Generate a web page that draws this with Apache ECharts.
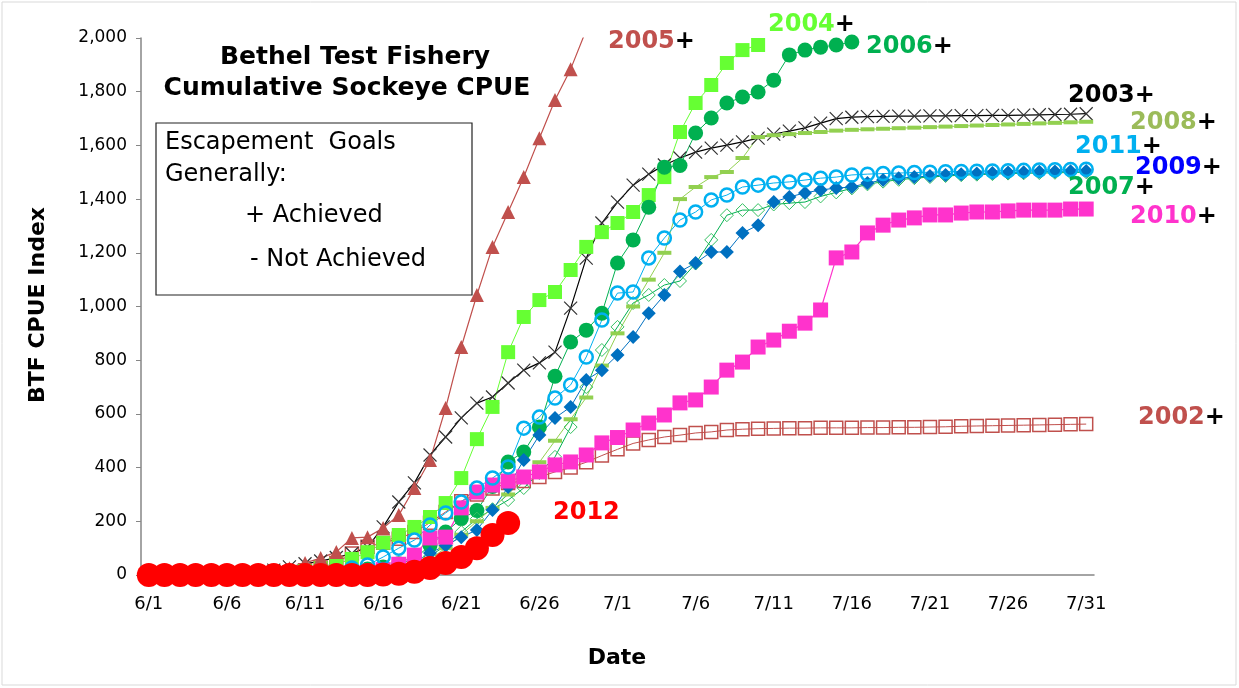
<!DOCTYPE html>
<html>
<head>
<meta charset="utf-8">
<script src="https://cdn.jsdelivr.net/npm/echarts@6/dist/echarts.min.js"></script>
<style>
  html, body { margin: 0; padding: 0; background: #fff; }
  #chart { width: 1239px; height: 688px; }
</style>
</head>
<body>
<div id="chart"></div>
<script>
// dates 6/1 .. 7/31
const dates = []
for (let d = 1; d <= 30; d++) dates.push('6/' + d)
for (let d = 1; d <= 31; d++) dates.push('7/' + d)

const y2002 = [0, 0, 0, 0, 0, 0, 0, 2, 5, 10, 18, 28, 45, 80, 105, 120, 135, 160, 195, 235,
  275, 300, 322, 343, 350, 365, 384, 400, 420, 445, 468, 490, 503, 514, 521, 529, 533, 540, 543, 545,
  546, 547, 547, 548, 548, 548, 549, 549, 550, 550, 551, 552, 554, 555, 556, 557, 558, 559, 560, 561, 562]
const y2003 = [0, 0, 0, 0, 0, 2, 5, 10, 18, 30, 42, 52, 65, 80, 104, 179, 272, 343, 447, 514,
  585, 640, 663, 715, 763, 790, 830, 994, 1180, 1311, 1389, 1452, 1493, 1527, 1553, 1575, 1590, 1601, 1613, 1627,
  1642, 1653, 1665, 1683, 1700, 1705, 1707, 1708, 1709, 1709, 1710, 1710, 1711, 1711, 1712, 1712, 1713, 1714, 1715, 1716, 1718]
const y2004 = [0, 0, 0, 0, 0, 0, 0, 2, 4, 8, 15, 25, 40, 60, 85, 120, 149, 179, 216, 268,
  361, 506, 626, 830, 961, 1024, 1054, 1136, 1222, 1277, 1311, 1352, 1415, 1482, 1650, 1758, 1825, 1907, 1955, 1974]
const y2005 = [0, 0, 0, 0, 0, 2, 4, 8, 14, 25, 45, 63, 86, 138, 141, 175, 223, 324, 428, 622,
  849, 1043, 1222, 1352, 1482, 1627, 1769, 1884, 2030]
const y2006 = [0, 0, 0, 0, 0, 0, 0, 0, 0, 2, 4, 6, 10, 15, 22, 30, 42, 60, 110, 160,
  210, 240, 330, 421, 458, 551, 740, 868, 912, 975, 1162, 1248, 1370, 1519, 1525, 1646, 1702, 1758, 1780, 1799,
  1843, 1937, 1955, 1966, 1974, 1985]
const y2007 = [0, 0, 0, 0, 0, 0, 0, 0, 0, 0, 2, 4, 6, 8, 12, 16, 20, 40, 70, 110,
  160, 210, 245, 279, 324, 380, 440, 551, 700, 838, 924, 1013, 1043, 1080, 1095, 1160, 1248, 1340, 1359, 1359,
  1380, 1385, 1389, 1410, 1425, 1440, 1455, 1465, 1472, 1478, 1482, 1486, 1489, 1491, 1493, 1495, 1496, 1497, 1498, 1499, 1500]
const y2008 = [0, 0, 0, 0, 0, 0, 0, 0, 0, 0, 2, 4, 6, 8, 12, 16, 20, 30, 60, 100,
  150, 200, 250, 300, 360, 420, 500, 580, 661, 780, 900, 1000, 1100, 1200, 1400, 1445, 1482, 1501, 1553, 1631,
  1638, 1642, 1646, 1650, 1655, 1658, 1660, 1662, 1664, 1666, 1668, 1670, 1672, 1674, 1676, 1678, 1680, 1682, 1684, 1686, 1688]
const y2009 = [0, 0, 0, 0, 0, 0, 0, 0, 0, 0, 2, 4, 6, 9, 14, 20, 30, 45, 82, 110,
  141, 168, 242, 328, 428, 521, 585, 626, 726, 763, 819, 886, 975, 1043, 1130, 1162, 1203, 1203, 1274, 1303,
  1389, 1408, 1423, 1434, 1441, 1445, 1460, 1471, 1478, 1482, 1486, 1490, 1493, 1495, 1497, 1499, 1500, 1502, 1503, 1504, 1505]
const y2010 = [0, 0, 0, 0, 0, 0, 0, 0, 0, 0, 2, 4, 6, 9, 14, 20, 40, 74, 138, 141,
  250, 309, 335, 350, 365, 384, 410, 421, 447, 492, 512, 540, 566, 596, 641, 652, 700, 763, 793, 849,
  875, 908, 938, 987, 1181, 1203, 1274, 1303, 1322, 1330, 1341, 1341, 1348, 1352, 1352, 1356, 1359, 1359, 1359, 1363, 1363]
const y2011 = [0, 0, 0, 0, 0, 0, 0, 0, 0, 2, 5, 10, 15, 26, 37, 67, 100, 130, 186, 231,
  272, 324, 361, 402, 547, 588, 659, 708, 812, 950, 1050, 1054, 1181, 1255, 1322, 1352, 1397, 1415, 1445, 1452,
  1460, 1464, 1471, 1478, 1482, 1490, 1493, 1495, 1497, 1499, 1500, 1502, 1503, 1504, 1505, 1506, 1507, 1508, 1509, 1510, 1511]
const y2012 = [0, 0, 0, 0, 0, 0, 0, 0, 0, 0, 0, 0, 0, 0, 0, 2, 5, 12, 26, 45,
  67, 100, 149, 194]

const yTicks = [0, 200, 400, 600, 800, 1000, 1200, 1400, 1600, 1800, 2000]

const chart = echarts.init(document.getElementById('chart'))

const FONT = 'DejaVu Sans'
const xMark = 'path://M0,0L10,10M10,0L0,10'

function line(name, data, color, symbol, size, item, lw) {
  return {
    name: name,
    type: 'line',
    data: data,
    symbol: symbol,
    symbolSize: size,
    showAllSymbol: true,
    lineStyle: { color: color, width: lw || 1 },
    itemStyle: Object.assign({ color: color }, item || {}),
    emphasis: { disabled: true },
    z: 2,
  }
}

function tag(x, y, year, color, plus) {
  return {
    type: 'text',
    x: x,
    y: y,
    style: {
      text: '{a|' + year + '}' + (plus ? '{b|+}' : ''),
      verticalAlign: 'middle',
      rich: {
        a: { fill: color, fontFamily: FONT, fontWeight: 'bold', fontSize: 24 },
        b: { fill: '#000', fontFamily: FONT, fontWeight: 'bold', fontSize: 24 },
      },
    },
    z: 10,
  }
}

const option = {
  animation: false,
  backgroundColor: '#fff',
  grid: { left: 141, right: 145, top: 38, bottom: 113 },
  xAxis: {
    type: 'category',
    data: dates,
    boundaryGap: true,
    axisLine: { lineStyle: { color: '#868686', width: 1.5 } },
    axisTick: { interval: 0, length: 7, lineStyle: { color: '#868686' } },
    axisLabel: { interval: 4, color: '#000', fontFamily: FONT, fontSize: 18, margin: 20 },
    splitLine: { show: false },
  },
  yAxis: {
    type: 'value',
    min: yTicks[0],
    max: yTicks[yTicks.length - 1],
    interval: 200,
    axisLine: { show: true, lineStyle: { color: '#868686', width: 1.5 } },
    axisTick: { show: true, length: 5, lineStyle: { color: '#868686' } },
    axisLabel: {
      color: '#000',
      fontFamily: FONT,
      fontSize: 17,
      margin: 14,
      formatter: (v) => v.toLocaleString('en-US'),
    },
    splitLine: { show: false },
  },
  series: [
    line('2002', y2002, '#C0504D', 'rect', 13, { color: 'rgba(0,0,0,0)', borderColor: '#C0504D', borderWidth: 1.5 }),
    line('2003', y2003, '#000', xMark, 13, { borderColor: '#333', borderWidth: 1.2 }, 1.2),
    line('2004', y2004, '#66FF33', 'rect', 14),
    line('2005', y2005, '#C0504D', 'triangle', 14, null, 1.2),
    line('2006', y2006, '#00B050', 'circle', 15),
    line('2007', y2007, '#00B050', 'diamond', 13, { color: 'rgba(0,0,0,0)', borderColor: '#33C060', borderWidth: 1 }),
    line('2008', y2008, '#92D050', 'rect', [14, 4]),
    line('2009', y2009, '#0070C0', 'diamond', 14),
    line('2010', y2010, '#FF33CC', 'rect', 15, null, 1.2),
    line('2011', y2011, '#00B0F0', 'circle', 13, { color: 'rgba(0,0,0,0)', borderColor: '#00B0F0', borderWidth: 2.5 }),
    line('2012', y2012, '#FF0000', 'circle', 24),
  ],
  graphic: [
    { type: 'rect', shape: { x: 2, y: 2, width: 1234, height: 683 }, style: { fill: 'none', stroke: '#d9d9d9', lineWidth: 1 }, silent: true },
    {
      type: 'text', x: 355, y: 57,
      style: { text: 'Bethel Test Fishery', fill: '#000', fontFamily: FONT, fontWeight: 'bold', fontSize: 25, align: 'center', verticalAlign: 'middle' },
    },
    {
      type: 'text', x: 347, y: 88,
      style: { text: 'Cumulative Sockeye CPUE', fill: '#000', fontFamily: FONT, fontWeight: 'bold', fontSize: 25, align: 'center', verticalAlign: 'middle' },
    },
    { type: 'rect', shape: { x: 156, y: 123, width: 316, height: 172 }, style: { fill: '#fff', stroke: '#222', lineWidth: 1.2 }, z: 5 },
    { type: 'text', x: 165, y: 143, z: 6, style: { text: 'Escapement  Goals', fill: '#000', fontFamily: FONT, fontSize: 24, verticalAlign: 'middle' } },
    { type: 'text', x: 165, y: 175, z: 6, style: { text: 'Generally:', fill: '#000', fontFamily: FONT, fontSize: 24, verticalAlign: 'middle' } },
    { type: 'text', x: 245, y: 216, z: 6, style: { text: '+ Achieved', fill: '#000', fontFamily: FONT, fontSize: 24, verticalAlign: 'middle' } },
    { type: 'text', x: 250, y: 260, z: 6, style: { text: '- Not Achieved', fill: '#000', fontFamily: FONT, fontSize: 24, verticalAlign: 'middle' } },
    {
      type: 'text', x: 38, y: 305, rotation: Math.PI / 2,
      style: { text: 'BTF CPUE Index', fill: '#000', fontFamily: FONT, fontWeight: 'bold', fontSize: 22, align: 'center', verticalAlign: 'middle' },
    },
    {
      type: 'text', x: 617, y: 658,
      style: { text: 'Date', fill: '#000', fontFamily: FONT, fontWeight: 'bold', fontSize: 22, align: 'center', verticalAlign: 'middle' },
    },
    tag(608, 42, '2005', '#C0504D', true),
    tag(768, 25, '2004', '#66FF33', true),
    tag(866, 47, '2006', '#00B050', true),
    tag(1068, 96, '2003', '#000', true),
    tag(1130, 123, '2008', '#9BBB59', true),
    tag(1075, 147, '2011', '#00B0F0', true),
    tag(1135, 168, '2009', '#0000FF', true),
    tag(1068, 188, '2007', '#00B050', true),
    tag(1130, 217, '2010', '#FF33CC', true),
    tag(1138, 418, '2002', '#C0504D', true),
    tag(553, 513, '2012', '#FF0000', false),
  ],
}

chart.setOption(option)
</script>
</body>
</html>
